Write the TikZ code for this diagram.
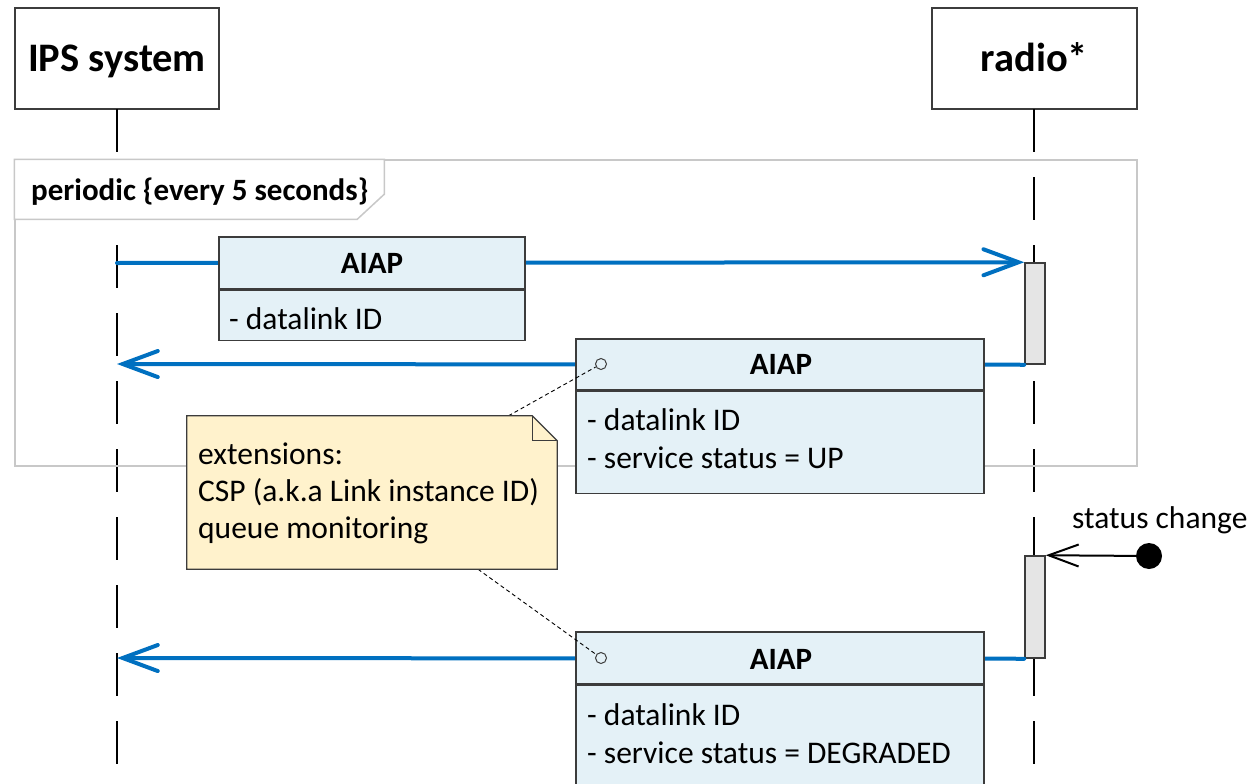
\documentclass[tikz,border=0pt]{standalone}
\usepackage{fontspec}
\setmainfont{Carlito}
\usetikzlibrary{arrows.meta}

\definecolor{msgblue}{RGB}{0,112,192}
\definecolor{boxfill}{RGB}{228,241,247}
\definecolor{notefill}{RGB}{255,242,204}
\definecolor{actfill}{RGB}{229,229,229}
\definecolor{framegray}{RGB}{200,200,200}
\definecolor{edgegray}{RGB}{60,60,60}

\newcommand{\titlefont}{\fontsize{40.5}{46}\selectfont\bfseries}
\newcommand{\headfont}{\fontsize{31}{37}\selectfont\bfseries}
\newcommand{\bodyfont}{\fontsize{31.5}{38}\selectfont}

\begin{document}
\begin{tikzpicture}[x=1pt,y=-1pt,
  lifebox/.style={draw=edgegray, line width=1.5pt, fill=white, inner sep=0pt},
  lifeline/.style={line width=2.5pt, dash pattern=on 43pt off 25pt},
  actbox/.style={draw=edgegray, line width=1.5pt, fill=actfill, minimum width=20pt, inner sep=0pt},
  loopframe/.style={draw=framegray, line width=1.5pt, inner sep=0pt},
  msgline/.style={draw=msgblue, line width=4pt, line cap=round,
    arrows={-{Straight Barb[length=35pt,width=26pt,line width=4pt,line cap=round]}}},
  msghead/.style={draw=edgegray, line width=1.2pt, fill=boxfill, inner sep=0pt, font=\headfont},
  msgbody/.style={draw=edgegray, line width=1.2pt, fill=boxfill, inner sep=0pt},
  bodytext/.style={anchor=base west, inner sep=0pt, font=\bodyfont},
  port/.style={circle, draw=edgegray, line width=1pt, fill=boxfill, minimum size=11pt, inner sep=0pt},
  noteshape/.style={draw=edgegray, line width=1.2pt, fill=notefill},
  notelink/.style={draw=black, line width=0.9pt, dash pattern=on 4pt off 3pt},
  eventarrow/.style={line width=2pt,
    arrows={-{Straight Barb[length=30pt,width=22pt,line width=2pt]}}}
]
\useasboundingbox (0,0) rectangle (1253,784);
\clip (0,0) rectangle (1253,784);
\fill[white] (0,0) rectangle (1253,784);

% participants
\node[lifebox, minimum width=204pt, minimum height=101pt] (ips) at (117,58.5) {};
\node[anchor=base, inner sep=0pt, font=\titlefont] (ipsname) at (117,71) {IPS system};
\node[lifebox, minimum width=205pt, minimum height=101pt] (radio) at (1034.5,58.5) {};
\node[anchor=base, inner sep=0pt, font=\titlefont] (radioname) at (1034.5,71) {radio*};

% lifelines
\coordinate (ipsend) at (117,800);
\coordinate (radioend) at (1034,800);
\draw[lifeline] (117,109) -- (ipsend);
\draw[lifeline] (1034,109) -- (radioend);

% combined fragment
\node[loopframe, minimum width=1122pt, minimum height=306pt] (loop) at (576,313) {};
\draw[draw=framegray, line width=1.5pt, fill=white]
  (loop.north west) -- ++(370,0) -- ++(0,35) -- ++(-27,25) -- ++(-343,0) -- cycle;
\node[anchor=base west, inner sep=0pt, font=\headfont] (looplabel) at (31,200) {periodic \{every 5 seconds\}};

% activations
\node[actbox, minimum height=101pt] (act1) at (1035,313.5) {};
\node[actbox, minimum height=102pt] (act2) at (1035,607) {};

\coordinate (ipsm1) at (117,263);
\coordinate (ipsm2) at (117,364);
\coordinate (ipsm3) at (117,658);

% messages
\draw[msgline] (ipsm1) -- (act1.north west);
\draw[msgline] (act1.south west) -- (ipsm2);
\draw[msgline] (act2.south west) -- (ipsm3);

% message 1 payload
\node[msghead, minimum width=306pt, minimum height=52pt] (m1head) at (372,263) {};
\node[anchor=base, inner sep=0pt, font=\headfont] (m1title) at (372,273) {AIAP};
\node[msgbody, minimum width=306pt, minimum height=50pt, anchor=north] (m1body) at (m1head.south) {};
\node[bodytext] (m1a) at (229,329) {- datalink ID};

% message 2 payload
\node[msghead, minimum width=408pt, minimum height=51pt] (m2head) at (780,364.5) {};
\node[anchor=base, inner sep=0pt, font=\headfont] (m2title) at (781,374) {AIAP};
\node[msgbody, minimum width=408pt, minimum height=102pt, anchor=north] (m2body) at (m2head.south) {};
\node[bodytext] (m2a) at (587,430) {- datalink ID};
\node[bodytext] (m2b) at (587,468) {- service status = UP};
\node[port] (p2) at (601,364) {};

% message 3 payload
\node[msghead, minimum width=408pt, minimum height=52pt] (m3head) at (780,658) {};
\node[anchor=base, inner sep=0pt, font=\headfont] (m3title) at (781,669) {AIAP};
\node[msgbody, minimum width=408pt, minimum height=104pt, anchor=north] (m3body) at (m3head.south) {};
\node[bodytext] (m3a) at (587,725) {- datalink ID};
\node[bodytext] (m3b) at (587,763) {- service status = DEGRADED};
\node[port] (p3) at (601,658) {};

% note
\node[minimum width=370pt, minimum height=153pt, inner sep=0pt] (note) at (372,492.5) {};
\draw[notelink] (note) -- (p2);
\draw[notelink] (note) -- (p3);
\draw[noteshape] (note.north west) -- ([xshift=-25pt]note.north east)
  -- ([yshift=-25pt]note.north east) -- (note.south east) -- (note.south west) -- cycle;
\draw[draw=edgegray, line width=1.2pt]
  ([xshift=-25pt]note.north east) -- ([xshift=-25pt,yshift=-25pt]note.north east)
  -- ([yshift=-25pt]note.north east);
\node[bodytext] (n1) at (198,464) {extensions:};
\node[bodytext] (n2) at (198,501.5) {CSP (a.k.a Link instance ID)};
\node[bodytext] (n3) at (198,538) {queue monitoring};

% external trigger
\node[circle, fill=black, minimum size=26pt, inner sep=0pt] (trigger) at (1149,556) {};
\draw[eventarrow] (trigger) -- (act2.north east);
\node[bodytext] (triggerlabel) at (1072,528) {status change};
\end{tikzpicture}
\end{document}
